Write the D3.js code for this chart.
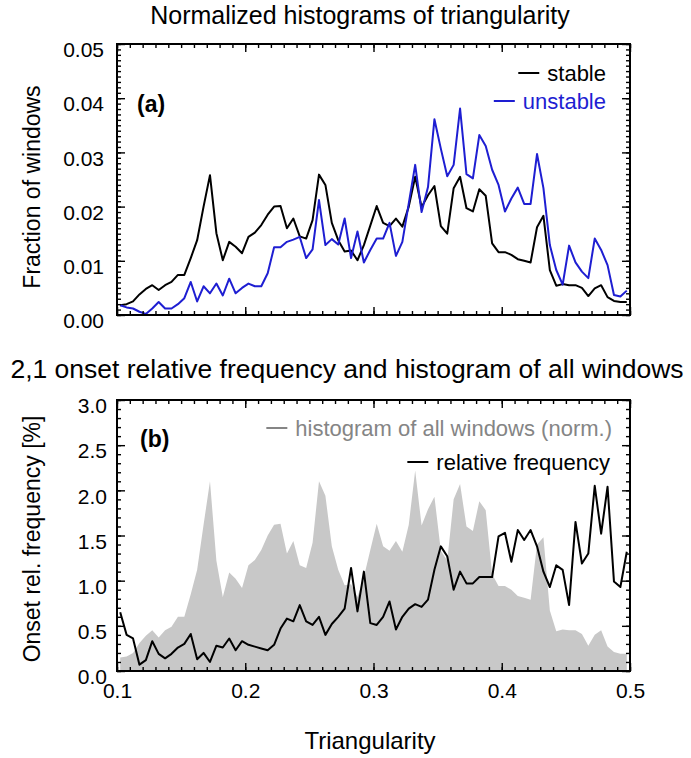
<!DOCTYPE html>
<html><head><meta charset="utf-8">
<script src="https://cdn.jsdelivr.net/npm/d3@7"></script>
<style>
body{margin:0;background:#fff}
text{font-family:"Liberation Sans",Arial,Helvetica,sans-serif}
</style>
</head><body>
<svg id="c" width="691" height="758"></svg>
<script>
// ---------------- data ----------------
const binCenters = [
0.1025,0.1075,0.1125,0.1175,0.1225,0.1275,0.1325,0.1375,0.1425,0.1475,
0.1525,0.1575,0.1625,0.1675,0.1725,0.1775,0.1825,0.1875,0.1925,0.1975,
0.2025,0.2075,0.2125,0.2175,0.2225,0.2275,0.2325,0.2375,0.2425,0.2475,
0.2525,0.2575,0.2625,0.2675,0.2725,0.2775,0.2825,0.2875,0.2925,0.2975,
0.3025,0.3075,0.3125,0.3175,0.3225,0.3275,0.3325,0.3375,0.3425,0.3475,
0.3525,0.3575,0.3625,0.3675,0.3725,0.3775,0.3825,0.3875,0.3925,0.3975,
0.4025,0.4075,0.4125,0.4175,0.4225,0.4275,0.4325,0.4375,0.4425,0.4475,
0.4525,0.4575,0.4625,0.4675,0.4725,0.4775,0.4825,0.4875,0.4925,0.4975];

const stable = [
0.0018,0.0020,0.0025,0.0038,0.0048,0.0055,0.0046,0.0055,0.0061,0.0074,
0.0074,0.0105,0.0138,0.0200,0.0258,0.0151,0.0101,0.0135,0.0126,0.0114,
0.0144,0.0152,0.0166,0.0185,0.0200,0.0201,0.0160,0.0178,0.0145,0.0141,
0.0175,0.0259,0.0240,0.0170,0.0138,0.0117,0.0119,0.0101,0.0129,0.0165,
0.0201,0.0170,0.0164,0.0178,0.0163,0.0200,0.0255,0.0199,0.0221,0.0238,
0.0164,0.0150,0.0234,0.0255,0.0197,0.0191,0.0232,0.0220,0.0132,0.0116,
0.0116,0.0111,0.0103,0.0100,0.0097,0.0162,0.0183,0.0083,0.0054,0.0057,
0.0055,0.0055,0.0050,0.0035,0.0049,0.0055,0.0033,0.0026,0.0024,0.0024];

const unstable = [
0.0018,0.0014,0.0012,0.0006,0.0002,0.0012,0.0024,0.0012,0.0012,0.0020,
0.0031,0.0061,0.0025,0.0053,0.0040,0.0058,0.0036,0.0067,0.0040,0.0050,
0.0058,0.0053,0.0053,0.0077,0.0125,0.0125,0.0135,0.0139,0.0144,0.0105,
0.0121,0.0212,0.0129,0.0140,0.0130,0.0178,0.0105,0.0154,0.0097,0.0120,
0.0141,0.0141,0.0170,0.0109,0.0135,0.0206,0.0277,0.0190,0.0236,0.0361,
0.0307,0.0256,0.0277,0.0381,0.0260,0.0252,0.0332,0.0312,0.0268,0.0240,
0.0191,0.0215,0.0235,0.0205,0.0205,0.0297,0.0234,0.0129,0.0083,0.0056,
0.0128,0.0097,0.0080,0.0068,0.0141,0.0120,0.0092,0.0037,0.0034,0.0045];

const allWindowsNorm = [
0.15,0.16,0.20,0.31,0.39,0.45,0.37,0.45,0.49,0.60,
0.60,0.85,1.12,1.62,2.10,1.22,0.82,1.09,1.02,0.92,
1.17,1.23,1.34,1.50,1.62,1.63,1.30,1.44,1.17,1.14,
1.42,2.10,1.94,1.38,1.12,0.95,0.96,0.82,1.04,1.34,
1.63,1.38,1.33,1.44,1.32,1.62,2.22,1.61,1.79,1.93,
1.33,1.22,1.90,2.07,1.60,1.55,1.88,1.78,1.07,0.94,
0.94,0.90,0.83,0.81,0.79,1.40,1.48,0.67,0.44,0.46,
0.45,0.45,0.41,0.28,0.40,0.45,0.27,0.21,0.19,0.19];

const relFrequency = [
0.65,0.40,0.36,0.07,0.12,0.33,0.19,0.14,0.19,0.26,
0.30,0.41,0.13,0.20,0.10,0.28,0.26,0.36,0.23,0.33,
0.29,0.27,0.25,0.23,0.29,0.47,0.58,0.55,0.73,0.55,
0.51,0.60,0.40,0.52,0.60,0.69,1.14,0.66,1.10,0.53,
0.51,0.60,0.77,0.46,0.60,0.69,0.74,0.71,0.79,1.12,
1.38,1.27,0.90,1.10,0.97,0.97,1.04,1.04,1.04,1.49,
1.53,1.21,1.56,1.45,1.56,1.38,1.10,0.93,1.17,1.12,
0.73,1.65,1.19,1.30,2.05,1.52,2.04,0.99,0.93,1.32];

const xTicks = [0.1,0.2,0.3,0.4,0.5];
const xTickLabels = ["0.1","0.2","0.3","0.4","0.5"];
const yTicksA = [0,0.01,0.02,0.03,0.04,0.05];
const yTickLabelsA = ["0.00","0.01","0.02","0.03","0.04","0.05"];
const yTicksB = [0,0.5,1.0,1.5,2.0,2.5,3.0];
const yTickLabelsB = ["0.0","0.5","1.0","1.5","2.0","2.5","3.0"];

// ---------------- layout ----------------
const L = 117, R = 630;
const topA = 44, botA = 315, topB = 400, botB = 671;
const BLUE = "#1e1ed2", GREYFILL = "#c8c8c8", GREYTXT = "#858585";

const svg = d3.select("#c");
svg.append("rect").attr("width",691).attr("height",758).attr("fill","#fff");

const x = d3.scaleLinear().domain([0.1,0.5]).range([L,R]);
const yA = d3.scaleLinear().domain([0,0.05]).range([botA,topA]);
const yB = d3.scaleLinear().domain([0,3]).range([botB,topB]);

const defs = svg.append("defs");
defs.append("clipPath").attr("id","clipA").append("rect")
  .attr("x",L).attr("y",topA).attr("width",R-L).attr("height",botA-topA);
defs.append("clipPath").attr("id","clipB").append("rect")
  .attr("x",L).attr("y",topB).attr("width",R-L).attr("height",botB-topB);

// ---------- panel (a) ----------
const gA = svg.append("g").attr("clip-path","url(#clipA)");
const lineA = d3.line().x((d,i)=>x(binCenters[i])).y(d=>yA(d));
gA.append("path").datum(stable).attr("d",lineA)
  .attr("fill","none").attr("stroke","#000").attr("stroke-width",2).attr("stroke-linejoin","round");
gA.append("path").datum(unstable).attr("d",lineA)
  .attr("fill","none").attr("stroke",BLUE).attr("stroke-width",2).attr("stroke-linejoin","round");

// ---------- panel (b) ----------
const gB = svg.append("g").attr("clip-path","url(#clipB)");
const areaB = d3.area().x((d,i)=>x(binCenters[i])).y0(yB(0)).y1(d=>yB(d));
gB.append("path").datum(allWindowsNorm).attr("d",areaB).attr("fill",GREYFILL).attr("stroke","none");
const lineB = d3.line().x((d,i)=>x(binCenters[i])).y(d=>yB(d));
gB.append("path").datum(relFrequency).attr("d",lineB)
  .attr("fill","none").attr("stroke","#000").attr("stroke-width",2).attr("stroke-linejoin","round");

// ---------- axes ----------
function frame(y, top, bot, yTicks, yLabels, yMinor, showXLabels, labelEnd) {
  const g = svg.append("g");
  const xMinor = d3.range(0.1, 0.5001, 0.01);
  const style = sel => { sel.select(".domain").remove(); sel.selectAll("line").attr("stroke","#000").attr("stroke-width",1.4); };
  // bottom
  g.append("g").attr("transform",`translate(0,${bot})`)
    .call(d3.axisBottom(x).tickValues(xMinor).tickSize(-4).tickFormat("")).call(style);
  const bx = g.append("g").attr("transform",`translate(0,${bot})`)
    .call(d3.axisBottom(x).tickValues(xTicks).tickSize(-8).tickPadding(12)
      .tickFormat((d,i)=> showXLabels ? xTickLabels[i] : "")).call(style);
  bx.selectAll("text").attr("font-size",21).attr("fill","#000");
  // top
  g.append("g").attr("transform",`translate(0,${top})`)
    .call(d3.axisTop(x).tickValues(xMinor).tickSize(-4).tickFormat("")).call(style);
  g.append("g").attr("transform",`translate(0,${top})`)
    .call(d3.axisTop(x).tickValues(xTicks).tickSize(-8).tickFormat("")).call(style);
  // left
  g.append("g").attr("transform",`translate(${L},0)`)
    .call(d3.axisLeft(y).tickValues(yMinor).tickSize(-4).tickFormat("")).call(style);
  const ly = g.append("g").attr("transform",`translate(${L},0)`)
    .call(d3.axisLeft(y).tickValues(yTicks).tickSize(-8).tickPadding(L-labelEnd)
      .tickFormat((d,i)=>yLabels[i])).call(style);
  ly.selectAll("text").attr("font-size",21).attr("fill","#000").attr("y",6);
  // right
  g.append("g").attr("transform",`translate(${R},0)`)
    .call(d3.axisRight(y).tickValues(yMinor).tickSize(-4).tickFormat("")).call(style);
  g.append("g").attr("transform",`translate(${R},0)`)
    .call(d3.axisRight(y).tickValues(yTicks).tickSize(-8).tickFormat("")).call(style);
  // box
  g.append("rect").attr("x",L).attr("y",top).attr("width",R-L).attr("height",bot-top)
    .attr("fill","none").attr("stroke","#000").attr("stroke-width",2);
}
frame(yA, topA, botA, yTicksA, yTickLabelsA, d3.range(0,0.05001,0.001), false, 104);
frame(yB, topB, botB, yTicksB, yTickLabelsB, d3.range(0,3.0001,0.1), true, 107);

// ---------- texts ----------
svg.append("text").attr("x",360).attr("y",24).attr("text-anchor","middle")
  .attr("font-size",25).text("Normalized histograms of triangularity");
svg.append("text").attr("x",347).attr("y",378).attr("text-anchor","middle")
  .attr("font-size",26.5).text("2,1 onset relative frequency and histogram of all windows");
svg.append("text").attr("x",370).attr("y",749).attr("text-anchor","middle")
  .attr("font-size",24).text("Triangularity");
svg.append("text").attr("transform","translate(40,187) rotate(-90)").attr("text-anchor","middle")
  .attr("font-size",23).text("Fraction of windows");
svg.append("text").attr("transform","translate(40,539) rotate(-90)").attr("text-anchor","middle")
  .attr("font-size",23).text("Onset rel. frequency [%]");

svg.append("text").attr("x",137).attr("y",112).attr("font-size",23).attr("font-weight","bold").text("(a)");
svg.append("text").attr("x",140).attr("y",447).attr("font-size",23).attr("font-weight","bold").text("(b)");

function legendItem(xEnd, y, label, color) {
  const t = svg.append("text").attr("x",xEnd).attr("y",y+8).attr("text-anchor","end")
    .attr("font-size",22).attr("fill",color).text(label);
  const w = t.node().getComputedTextLength();
  const x1 = xEnd - w - 8;
  svg.append("line").attr("x1",x1-21).attr("x2",x1).attr("y1",y).attr("y2",y)
    .attr("stroke",color).attr("stroke-width",2);
}
legendItem(606, 73, "stable", "#000");
legendItem(606, 101, "unstable", BLUE);
legendItem(612, 428, "histogram of all windows (norm.)", GREYTXT);
legendItem(610, 462, "relative frequency", "#000");
</script>
</body></html>
